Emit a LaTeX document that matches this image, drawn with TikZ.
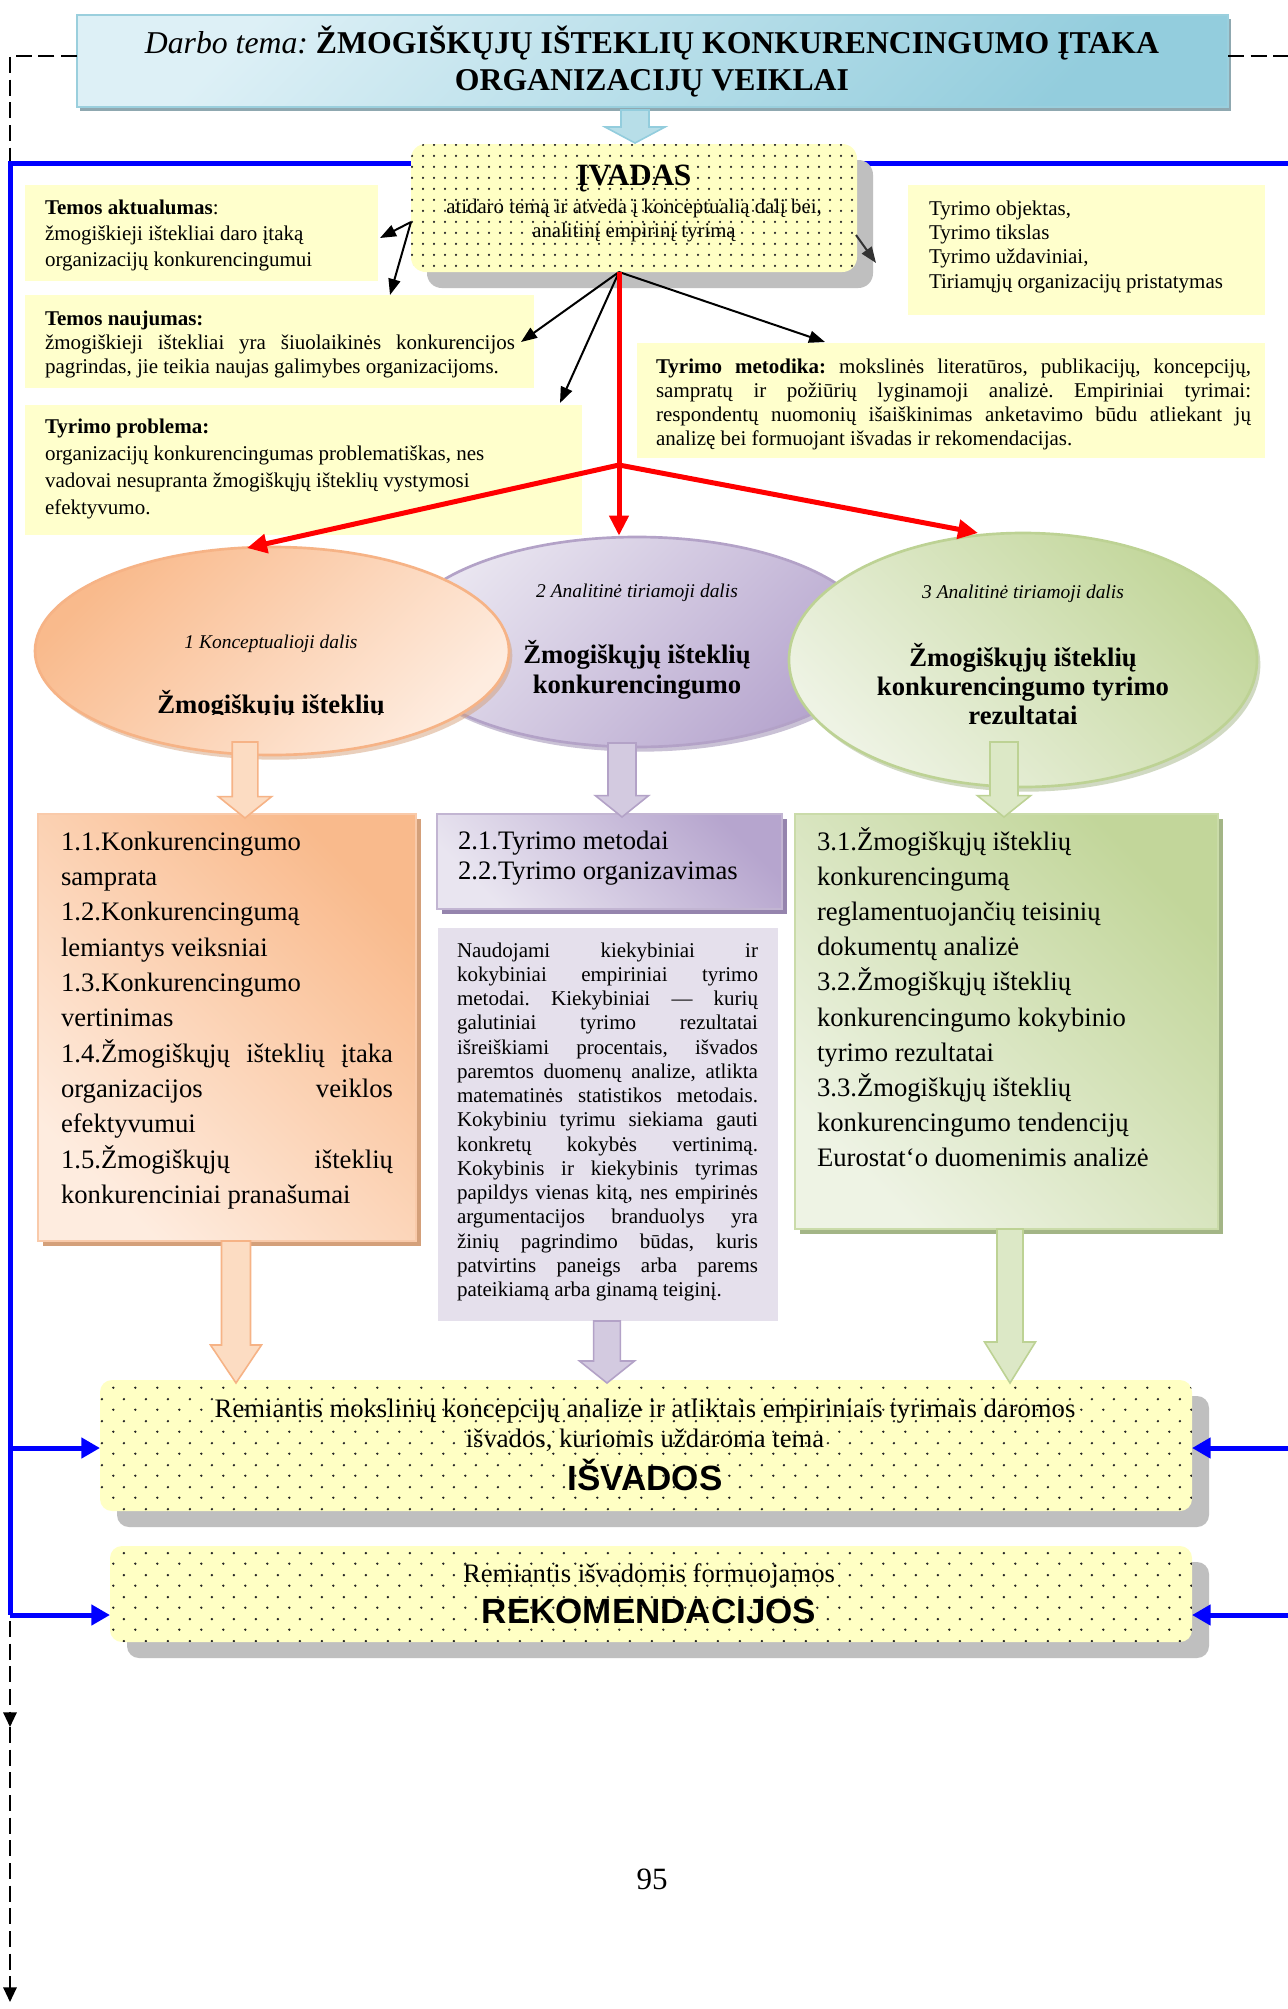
\documentclass[tikz,border=0pt]{standalone}
\usepackage{fontspec}
\setmainfont{Liberation Serif}
\newfontfamily\hsans{Liberation Sans}
\usetikzlibrary{arrows.meta,patterns.meta,shapes.geometric,calc,fit,shadows}
\frenchspacing

\definecolor{yelbox}{HTML}{FFFFCC}
\definecolor{dotyel}{HTML}{FFFFC4}
\definecolor{shgray}{HTML}{BFBFBF}
\definecolor{ttl1}{HTML}{DDF0F6}
\definecolor{ttl2}{HTML}{93CDDD}
\definecolor{ttlb}{HTML}{9ACFDD}
\definecolor{ttlsh}{HTML}{8FA8B0}
\definecolor{or1}{HTML}{F9BA8C}
\definecolor{or2}{HTML}{FEECDF}
\definecolor{orb}{HTML}{F6B386}
\definecolor{orsh}{HTML}{D4A07A}
\definecolor{orarr}{HTML}{FCDCC2}
\definecolor{pu1}{HTML}{B6A5CE}
\definecolor{pu2}{HTML}{E9E5F0}
\definecolor{pub}{HTML}{B3A2C7}
\definecolor{push}{HTML}{9584AD}
\definecolor{pulav}{HTML}{E5E0EC}
\definecolor{puarr}{HTML}{D3CAE0}
\definecolor{gr1}{HTML}{C2D69A}
\definecolor{gr2}{HTML}{EEF3E4}
\definecolor{grb}{HTML}{BDD294}
\definecolor{grsh}{HTML}{A3B586}
\definecolor{grarr}{HTML}{DCE8C6}
\definecolor{arblue}{HTML}{B7DEE8}

\tikzdeclarepattern{name=griddots, type=uncolored,
  bounding box={(0pt,0pt) and (8.25pt,8.25pt)},
  tile size={(8.25pt,8.25pt)},
  code={\fill (4.1pt,4.1pt) circle (1pt);}}
\tikzdeclarepattern{name=stagdots, type=uncolored,
  bounding box={(0pt,0pt) and (16.2pt,16.5pt)},
  tile size={(16.2pt,16.5pt)},
  code={\fill (4.05pt,4.1pt) circle (1pt); \fill (12.15pt,12.35pt) circle (1pt);}}

\newcommand\fs[2]{\fontsize{#1pt}{#2pt}\selectfont}
\newcommand\LL[1]{\hbox to\hsize{#1\hfil}}
\newcommand\JL[1]{\hbox to\hsize{#1}}
\newcommand\CL[1]{\hbox to\hsize{\hfil#1\hfil}}
\newcommand\tbox[2]{\vtop{\hsize=#1 #2}}
\newcommand\blockarrow[6]{%
  \path[#1] let \p1=(#2), \p2=(#3) in
    (\x2-#4,\y1) -- (\x2+#4,\y1) -- (\x2+#4,\y2+#6) -- (\x2+#5,\y2+#6)
    -- (\x2,\y2) -- (\x2-#5,\y2+#6) -- (\x2-#4,\y2+#6) -- cycle;}

\begin{document}
\begin{tikzpicture}[x=0.75pt,y=-0.75pt,
  fitb/.style={rectangle,inner sep=0pt,outer sep=0pt},
  txt/.style={inner sep=0pt,outer sep=0pt},
  ylwbox/.style={fitb,fill=yelbox},
  blk/.style={line width=1.5pt,-{Triangle[length=12pt,width=9pt]}},
  redarr/.style={draw=red,line width=3.75pt,-{Triangle[length=15pt,width=14pt]}},
  blueln/.style={draw=blue,line width=3.75pt},
  bluearr/.style={blueln,-{Triangle[length=14pt,width=15pt]}},
  dashln/.style={line width=1.5pt,dash pattern=on 12pt off 5pt},
  dasharr/.style={dashln,-{Triangle[length=11pt,width=10pt]}},
  oarrow/.style={fill=orarr,draw=orb,line width=1.2pt},
  parrow/.style={fill=puarr,draw=pub,line width=1.2pt},
  garrow/.style={fill=grarr,draw=grb,line width=1.2pt},
  tarrow/.style={fill=arblue,draw=ttl2,line width=1.2pt}]

\fill[white] (0,0) rectangle (1288,2009);
\useasboundingbox (0,0) rectangle (1288,2009);

% ---------- title box
\node[fitb,fit={(77,15) (1228,107)},top color=ttl2,bottom color=ttl1,shading angle=-135,
      draw=ttlb,line width=1.5pt,
      general shadow={fill=ttlsh,shadow xshift=2.5pt,shadow yshift=-3pt}] (title) {};

% ---------- dashed frame line
\coordinate (dT) at (10,56);
\coordinate (dTR) at (1288,56);
\coordinate (dM) at (10,1727);
\coordinate (dB) at (10,2002);
\draw[dasharr] (title.west |- dT) -- (dT) -- (dM);
\draw[dasharr] (dM) -- (dB);
\draw[dashln] (title.east |- dT) -- (dTR);

% ---------- title text
\node[txt,anchor=base] (titletxt) at (652,54) {\tbox{825pt}{\fs{23.8}{27.75}%
  \CL{\textit{Darbo tema:} \textbf{ŽMOGIŠKŲJŲ IŠTEKLIŲ KONKURENCINGUMO ĮTAKA}}%
  \CL{\textbf{ORGANIZACIJŲ VEIKLAI}}}};

% ---------- blue loop line
\coordinate (bR) at (1288,163);
\coordinate (bL) at (10,163);
\coordinate (bL2) at (10,1448);
\coordinate (bL3) at (10,1615);
\coordinate (bR2) at (1288,1448);
\coordinate (bR3) at (1288,1615);
\draw[blueln] (bR) -- (bL) -- (bL3);

% ---------- arrow title -> intro
\coordinate (ta1) at (635,110);
\coordinate (ta2) at (635,143);
\blockarrow{tarrow}{ta1}{ta2}{10.5pt}{22.5pt}{12pt}

% ---------- IVADAS
\node[fitb,fit={(411,144) (857,272)},rounded corners=11pt,fill=dotyel,
      postaction={pattern=griddots,pattern color=black!85},
      general shadow={fill=shgray,shadow xshift=12pt,shadow yshift=-12pt}] (ivadas) {};
\node[txt,anchor=base] (ivtitle) at (634,185) {\fs{23.25}{28}\textbf{ĮVADAS}};
\node[txt,anchor=base] (ivsub) at (634,213) {\tbox{400pt}{\fs{15.6}{18}%
  \CL{atidaro temą ir atveda į konceptualią dalį bei,}%
  \CL{analitinį empirinį tyrimą}}};

% ---------- yellow boxes
\node[ylwbox,fit={(25,185) (378,281)}] (aktual) {};
\node[ylwbox,fit={(25,295) (534,388)}] (naujum) {};
\node[ylwbox,fit={(25,405) (582,535)}] (problem) {};
\node[ylwbox,fit={(908,185) (1265,315)}] (objekt) {};
\node[ylwbox,fit={(637,343) (1265,458)}] (metod) {};

\node[txt,anchor=base west] (aktualtxt) at (45,214) {\tbox{255pt}{\fs{15.75}{19.5}%
  \LL{\textbf{Temos aktualumas}:}%
  \LL{žmogiškieji ištekliai daro įtaką}%
  \LL{organizacijų konkurencingumui}}};
\node[txt,anchor=base west] (naujumtxt) at (45,325) {\tbox{352.5pt}{\fs{15.75}{18}%
  \LL{\textbf{Temos naujumas:}}%
  \JL{žmogiškieji ištekliai yra šiuolaikinės konkurencijos}%
  \LL{pagrindas, jie teikia naujas galimybes organizacijoms.}}};
\node[txt,anchor=base west] (problemtxt) at (45,433) {\tbox{400pt}{\fs{15.75}{20.25}%
  \LL{\textbf{Tyrimo problema:}}%
  \LL{organizacijų konkurencingumas problematiškas, nes}%
  \LL{vadovai nesupranta žmogiškųjų išteklių vystymosi}%
  \LL{efektyvumo.}}};
\node[txt,anchor=base west] (objekttxt) at (929,215) {\tbox{255pt}{\fs{15.75}{18.25}%
  \LL{Tyrimo objektas,}%
  \LL{Tyrimo tikslas}%
  \LL{Tyrimo uždaviniai,}%
  \LL{Tiriamųjų organizacijų pristatymas}}};
\node[txt,anchor=base west] (metodtxt) at (656,373) {\tbox{446.25pt}{\fs{15.75}{18}%
  \JL{\textbf{Tyrimo metodika:} mokslinės literatūros, publikacijų, koncepcijų,}%
  \JL{sampratų ir požiūrių lyginamoji analizė. Empiriniai tyrimai:}%
  \JL{respondentų nuomonių išaiškinimas anketavimo būdu atliekant jų}%
  \LL{analizę bei formuojant išvadas ir rekomendacijas.}}};

% ---------- black arrows
\coordinate (hub) at (619,272);
\coordinate (lhub) at (411,222);
\coordinate (rhub) at (856,235);
\coordinate (t1) at (380,238);
\coordinate (t2) at (390,295);
\coordinate (t3) at (521,342);
\coordinate (t4) at (560,403);
\coordinate (t5) at (825,342);
\coordinate (t6) at (876,263);
\draw[blk] (lhub) -- (t1);
\draw[blk] (lhub) -- (t2);
\draw[blk] (hub) -- (t3);
\draw[blk] (hub) -- (t4);
\draw[blk] (hub) -- (t5);
\draw[blk,draw=black!80,fill=black!80] (rhub) -- (t6);

% ---------- ellipses
\node[ellipse,minimum width=360pt,minimum height=157.5pt,inner sep=0pt,
      top color=pu1,bottom color=pu2,shading angle=-135,draw=pub,line width=2pt,
      general shadow={fill=push,opacity=.5,shadow xshift=2.5pt,shadow yshift=-3.5pt}] (pell) at (637,642) {};
\node[ellipse,minimum width=355.5pt,minimum height=156pt,inner sep=0pt,
      top color=or1,bottom color=or2,shading angle=45,draw=orb,line width=2pt,
      general shadow={fill=orsh,opacity=.5,shadow xshift=2.5pt,shadow yshift=-3.5pt}] (oell) at (272,651) {};
\node[ellipse,minimum width=351pt,minimum height=190.5pt,inner sep=0pt,
      top color=gr1,bottom color=gr2,shading angle=-45,draw=grb,line width=2pt,
      general shadow={fill=grsh,opacity=.5,shadow xshift=2.5pt,shadow yshift=-3.5pt}] (gell) at (1023,660) {};

\node[txt,anchor=base] (oellsub) at (271,648) {\fs{14.6}{17}\itshape 1 Konceptualioji dalis};
\begin{scope}
  \clip (0,0) rectangle (1288,714.5);
  \node[txt,anchor=base] (oelltxt) at (271,713) {\fs{20}{23}\textbf{Žmogiškųjų išteklių}};
\end{scope}
\node[txt,anchor=base] (pellsub) at (637,597) {\fs{14.6}{17}\itshape 2 Analitinė tiriamoji dalis};
\node[txt,anchor=base] (pelltxt) at (637,663) {\tbox{260pt}{\fs{20}{22.5}\bfseries
  \CL{Žmogiškųjų išteklių}\CL{konkurencingumo}}};
\node[txt,anchor=base] (gellsub) at (1023,598) {\fs{14.6}{17}\itshape 3 Analitinė tiriamoji dalis};
\node[txt,anchor=base] (gelltxt) at (1023,666) {\tbox{260pt}{\fs{20}{22.1}\bfseries
  \CL{Žmogiškųjų išteklių}\CL{konkurencingumo tyrimo}\CL{rezultatai}}};

% ---------- red arrows
\coordinate (rj) at (619,465);
\coordinate (rl) at (247,548);
\coordinate (rr) at (978,533);
\draw[redarr] (hub) -- (pell.north -| hub);
\draw[redarr] (rj) -- (rl);
\draw[redarr] (rj) -- (rr);

% ---------- content boxes
\node[fitb,fit={(38,814) (416,1241)},top color=or1,bottom color=or2,shading angle=-45,
      draw=orb!70,line width=1.5pt,
      general shadow={fill=orsh,shadow xshift=3.75pt,shadow yshift=-3.75pt}] (obox) {};
\node[fitb,fit={(437,814) (782,909)},top color=pu1,bottom color=pu2,shading angle=-45,
      draw=pub!80,line width=1.5pt,
      general shadow={fill=push,shadow xshift=3.75pt,shadow yshift=-3.75pt}] (pbox) {};
\node[fitb,fit={(438,928) (778,1321)},fill=pulav] (pnote) {};
\node[fitb,fit={(795,814) (1218,1229)},top color=gr1,bottom color=gr2,shading angle=-45,
      draw=grb!80,line width=1.5pt,
      general shadow={fill=grsh,shadow xshift=3.75pt,shadow yshift=-3.75pt}] (gbox) {};

% upper block arrows
\coordinate (oa1) at (245,742); \coordinate (oa2) at (245,818);
\coordinate (pa1) at (622,743); \coordinate (pa2) at (622,817);
\coordinate (ga1) at (1004,742); \coordinate (ga2) at (1004,817);
\blockarrow{oarrow}{oa1}{oa2}{9.6pt}{19.9pt}{16pt}
\blockarrow{parrow}{pa1}{pa2}{10.5pt}{19.9pt}{16pt}
\blockarrow{garrow}{ga1}{ga2}{10.5pt}{19.9pt}{16pt}

\node[txt,anchor=base west] (oboxtxt) at (61,850) {\tbox{249pt}{\fs{20}{26.5}%
  \LL{1.1.Konkurencingumo}%
  \LL{samprata}%
  \LL{1.2.Konkurencingumą}%
  \LL{lemiantys veiksniai}%
  \LL{1.3.Konkurencingumo}%
  \LL{vertinimas}%
  \JL{1.4.Žmogiškųjų išteklių įtaka}%
  \JL{organizacijos veiklos}%
  \LL{efektyvumui}%
  \JL{1.5.Žmogiškųjų išteklių}%
  \LL{konkurenciniai pranašumai}}};
\node[txt,anchor=base west] (pboxtxt) at (458,849) {\tbox{300pt}{\fs{20}{22.5}%
  \LL{2.1.Tyrimo metodai}%
  \LL{2.2.Tyrimo organizavimas}}};
\node[txt,anchor=base west] (pnotetxt) at (457,957) {\tbox{225.75pt}{\fs{15.75}{18.2}%
  \JL{Naudojami kiekybiniai ir}%
  \JL{kokybiniai empiriniai tyrimo}%
  \JL{metodai. Kiekybiniai — kurių}%
  \JL{galutiniai tyrimo rezultatai}%
  \JL{išreiškiami procentais, išvados}%
  \JL{paremtos duomenų analize, atlikta}%
  \JL{matematinės statistikos metodais.}%
  \JL{Kokybiniu tyrimu siekiama gauti}%
  \JL{konkretų kokybės vertinimą.}%
  \JL{Kokybinis ir kiekybinis tyrimas}%
  \JL{papildys vienas kitą, nes empirinės}%
  \JL{argumentacijos branduolys yra}%
  \JL{žinių pagrindimo būdas, kuris}%
  \JL{patvirtins paneigs arba parems}%
  \LL{pateikiamą arba ginamą teiginį.}}};
\node[txt,anchor=base west] (gboxtxt) at (817,850) {\tbox{300pt}{\fs{20}{26.4}%
  \LL{3.1.Žmogiškųjų išteklių}%
  \LL{konkurencingumą}%
  \LL{reglamentuojančių teisinių}%
  \LL{dokumentų analizė}%
  \LL{3.2.Žmogiškųjų išteklių}%
  \LL{konkurencingumo kokybinio}%
  \LL{tyrimo rezultatai}%
  \LL{3.3.Žmogiškųjų išteklių}%
  \LL{konkurencingumo tendencijų}%
  \LL{Eurostat‘o duomenimis analizė}}};

% ---------- conclusions
\node[fitb,fit={(100,1380) (1192,1511)},rounded corners=9pt,fill=dotyel,
      postaction={pattern=stagdots,pattern color=black!85},
      general shadow={fill=shgray,shadow xshift=12.75pt,shadow yshift=-12pt}] (isvad) {};
\node[fitb,fit={(110,1546) (1192,1642)},rounded corners=9pt,fill=dotyel,
      postaction={pattern=stagdots,pattern color=black!85},
      general shadow={fill=shgray,shadow xshift=12.75pt,shadow yshift=-12pt}] (rekom) {};

% lower block arrows
\coordinate (ob1) at (236,1241); \coordinate (ob2) at (236,1383);
\coordinate (pb1) at (607,1321); \coordinate (pb2) at (607,1383);
\coordinate (gb1) at (1010,1229); \coordinate (gb2) at (1010,1383);
\blockarrow{oarrow}{ob1}{ob2}{10.9pt}{19.1pt}{28.5pt}
\blockarrow{parrow}{pb1}{pb2}{10pt}{20.6pt}{16.5pt}
\blockarrow{garrow}{gb1}{gb2}{9.75pt}{19.1pt}{30.75pt}

\node[txt,anchor=base] (isvadtxt) at (645,1417) {\tbox{900pt}{\fs{20}{22.5}%
  \CL{Remiantis mokslinių koncepcijų analize ir atliktais empiriniais tyrimais daromos}%
  \CL{išvados, kuriomis uždaroma tema}}};
\node[txt,anchor=base] (isvadhead) at (645,1490) {\hsans\bfseries\fs{26.25}{30}IŠVADOS};
\node[txt,anchor=base] (rekomtxt) at (649,1582) {\fs{20}{22.5}Remiantis išvadomis formuojamos};
\node[txt,anchor=base] (rekomhead) at (649,1623) {\hsans\bfseries\fs{26.25}{30}REKOMENDACIJOS};

% ---------- blue arrows into conclusions
\draw[bluearr] (bL3) -- (bL3 -| rekom.west);
\draw[bluearr] (bL2) -- (bL2 -| isvad.west);
\draw[bluearr] (bR2) -- (bR2 -| isvad.east);
\draw[bluearr] (bR3) -- (bR3 -| rekom.east);

% ---------- page number
\node[txt,anchor=base] (pagenum) at (652,1889) {\fs{23.25}{28}95};

\end{tikzpicture}
\end{document}
